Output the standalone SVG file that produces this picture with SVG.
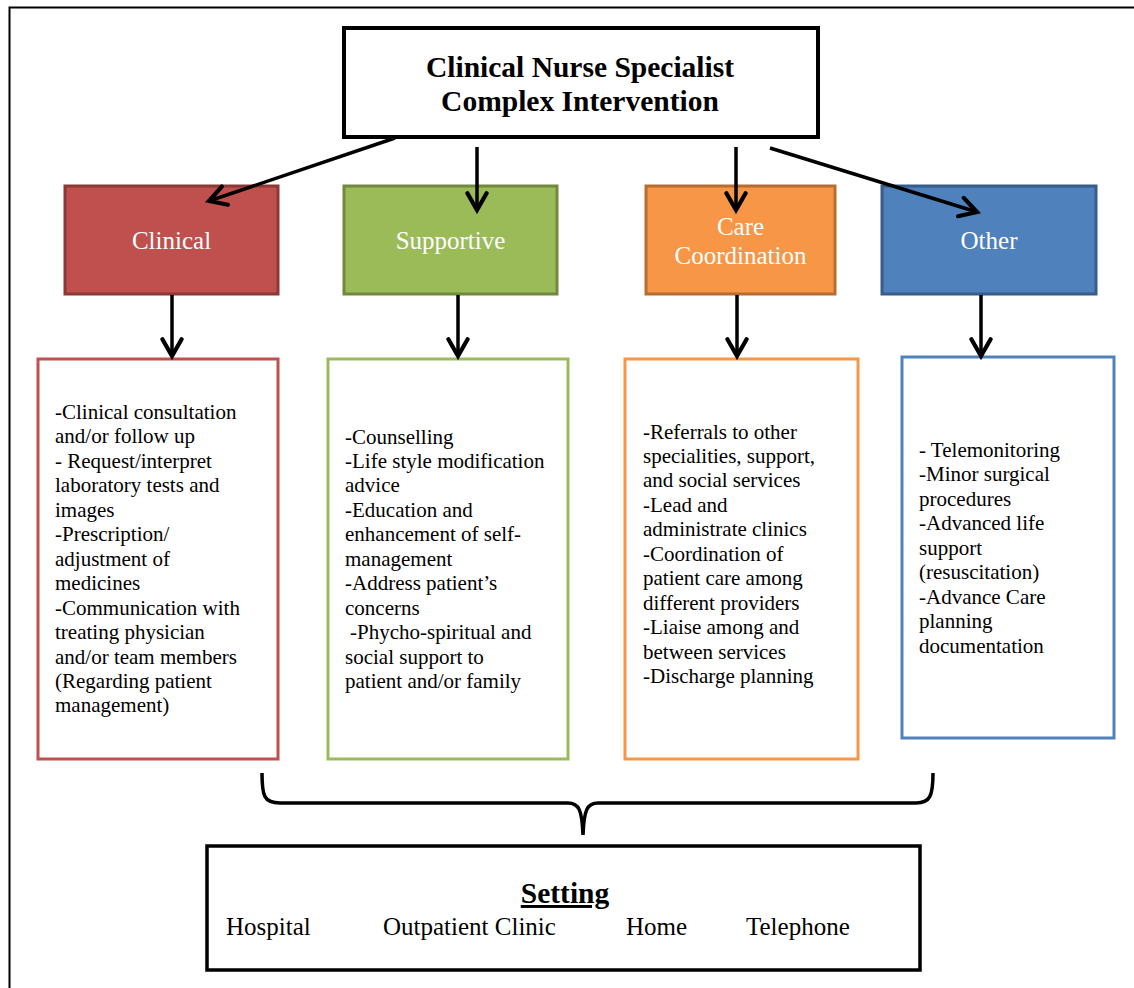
<svg xmlns="http://www.w3.org/2000/svg" width="1134" height="988" viewBox="0 0 1134 988">
<defs>
<style>
.frame{stroke:#000;stroke-width:2;fill:none}
.title{font-family:"Liberation Serif",serif;font-weight:bold;font-size:29.5px;fill:#000;text-anchor:middle}
.cat{font-family:"Liberation Serif",serif;font-size:25px;fill:#fff;text-anchor:middle}
.det{font-family:"Liberation Serif",serif;font-size:21px;fill:#000}
.set{font-family:"Liberation Serif",serif;font-size:25px;fill:#000}
.conn{stroke:#000;stroke-width:3.5;fill:none}
</style>
<marker id="ah" markerUnits="userSpaceOnUse" markerWidth="24" markerHeight="24" refX="16" refY="10" orient="auto" viewBox="0 0 20 20">
<path d="M2,2 L16,10 L2,18" fill="none" stroke="#000" stroke-width="3.5" stroke-linecap="round" stroke-linejoin="miter"/>
</marker>
</defs>
<rect width="1134" height="988" fill="#fff"/>
<path class="frame" d="M9.5,988 L9.5,7.5 L1134,7.5"/>

<g id="top">
<rect x="344" y="28" width="474" height="109" fill="#fff" stroke="#000" stroke-width="4"/>
<text class="title" x="580" y="77">Clinical Nurse Specialist</text>
<text class="title" x="580" y="111">Complex Intervention</text>
</g>

<g id="cat-clinical">
<rect x="65" y="186" width="213" height="108" fill="#C0504D" stroke="#8C3836" stroke-width="3"/>
<text class="cat" x="171.5" y="249">Clinical</text>
</g>
<g id="cat-supportive">
<rect x="344" y="186" width="213" height="108" fill="#9BBB59" stroke="#71893F" stroke-width="3"/>
<text class="cat" x="450.5" y="249">Supportive</text>
</g>
<g id="cat-care">
<rect x="646" y="186" width="189" height="108" fill="#F79646" stroke="#B66D31" stroke-width="3"/>
<text class="cat" x="740.5" y="235">Care</text>
<text class="cat" x="740.5" y="264">Coordination</text>
</g>
<g id="cat-other">
<rect x="882" y="186" width="214" height="108" fill="#4F81BD" stroke="#385D8A" stroke-width="3"/>
<text class="cat" x="989" y="249">Other</text>
</g>

<g id="det-clinical">
<rect x="38" y="359" width="240" height="400" fill="#fff" stroke="#C0504D" stroke-width="3"/>
<text class="det" x="55" y="419">
<tspan x="55" y="419">-Clinical consultation</tspan>
<tspan x="55" dy="24.45">and/or follow up</tspan>
<tspan x="55" dy="24.45">- Request/interpret</tspan>
<tspan x="55" dy="24.45">laboratory tests and</tspan>
<tspan x="55" dy="24.45">images</tspan>
<tspan x="55" dy="24.45">-Prescription/</tspan>
<tspan x="55" dy="24.45">adjustment of</tspan>
<tspan x="55" dy="24.45">medicines</tspan>
<tspan x="55" dy="24.45">-Communication with</tspan>
<tspan x="55" dy="24.45">treating physician</tspan>
<tspan x="55" dy="24.45">and/or team members</tspan>
<tspan x="55" dy="24.45">(Regarding patient</tspan>
<tspan x="55" dy="24.45">management)</tspan>
</text>
</g>
<g id="det-supportive">
<rect x="328" y="359" width="240" height="400" fill="#fff" stroke="#9BBB59" stroke-width="3"/>
<text class="det" x="345" y="443.5">
<tspan x="345" y="443.5">-Counselling</tspan>
<tspan x="345" dy="24.45">-Life style modification</tspan>
<tspan x="345" dy="24.45">advice</tspan>
<tspan x="345" dy="24.45">-Education and</tspan>
<tspan x="345" dy="24.45">enhancement of self-</tspan>
<tspan x="345" dy="24.45">management</tspan>
<tspan x="345" dy="24.45">-Address patient’s</tspan>
<tspan x="345" dy="24.45">concerns</tspan>
<tspan x="350" dy="24.45">-Phycho-spiritual and</tspan>
<tspan x="345" dy="24.45">social support to</tspan>
<tspan x="345" dy="24.45">patient and/or family</tspan>
</text>
</g>
<g id="det-care">
<rect x="625" y="359" width="233" height="400" fill="#fff" stroke="#F79646" stroke-width="3"/>
<text class="det" x="643" y="438.5">
<tspan x="643" y="438.5">-Referrals to other</tspan>
<tspan x="643" dy="24.45">specialities, support,</tspan>
<tspan x="643" dy="24.45">and social services</tspan>
<tspan x="643" dy="24.45">-Lead and</tspan>
<tspan x="643" dy="24.45">administrate clinics</tspan>
<tspan x="643" dy="24.45">-Coordination of</tspan>
<tspan x="643" dy="24.45">patient care among</tspan>
<tspan x="643" dy="24.45">different providers</tspan>
<tspan x="643" dy="24.45">-Liaise among and</tspan>
<tspan x="643" dy="24.45">between services</tspan>
<tspan x="643" dy="24.45">-Discharge planning</tspan>
</text>
</g>
<g id="det-other">
<rect x="902" y="357" width="212" height="381" fill="#fff" stroke="#4F81BD" stroke-width="3"/>
<text class="det" x="919" y="457">
<tspan x="919" y="457">- Telemonitoring</tspan>
<tspan x="919" dy="24.45">-Minor surgical</tspan>
<tspan x="919" dy="24.45">procedures</tspan>
<tspan x="919" dy="24.45">-Advanced life</tspan>
<tspan x="919" dy="24.45">support</tspan>
<tspan x="919" dy="24.45">(resuscitation)</tspan>
<tspan x="919" dy="24.45">-Advance Care</tspan>
<tspan x="919" dy="24.45">planning</tspan>
<tspan x="919" dy="24.45">documentation</tspan>
</text>
</g>

<g id="setting">
<rect x="207" y="846" width="713" height="124" fill="#fff" stroke="#000" stroke-width="3.5"/>
<text class="title" x="565" y="903" text-decoration="underline">Setting</text>
<text class="set" x="226" y="935">Hospital</text>
<text class="set" x="383" y="935">Outpatient Clinic</text>
<text class="set" x="626" y="935">Home</text>
<text class="set" x="746" y="935">Telephone</text>
</g>

<g id="connectors">
<line class="conn" x1="395" y1="138" x2="209" y2="201" marker-end="url(#ah)"/>
<line class="conn" x1="477" y1="147" x2="477" y2="210" marker-end="url(#ah)"/>
<line class="conn" x1="736" y1="147" x2="736" y2="210" marker-end="url(#ah)"/>
<line class="conn" x1="770" y1="148" x2="977" y2="212" marker-end="url(#ah)"/>
<line class="conn" x1="172" y1="295" x2="172" y2="356" marker-end="url(#ah)"/>
<line class="conn" x1="458" y1="295" x2="458" y2="356" marker-end="url(#ah)"/>
<line class="conn" x1="737" y1="295" x2="737" y2="356" marker-end="url(#ah)"/>
<line class="conn" x1="981" y1="295" x2="981" y2="356" marker-end="url(#ah)"/>
<path class="conn" d="M262,773 C262,796 264,803 280,803 L568,803 C579,803 582,810 583,835 C584,810 587,803 598,803 L916,803 C930,803 933,796 933,773"/>
</g>
</svg>
